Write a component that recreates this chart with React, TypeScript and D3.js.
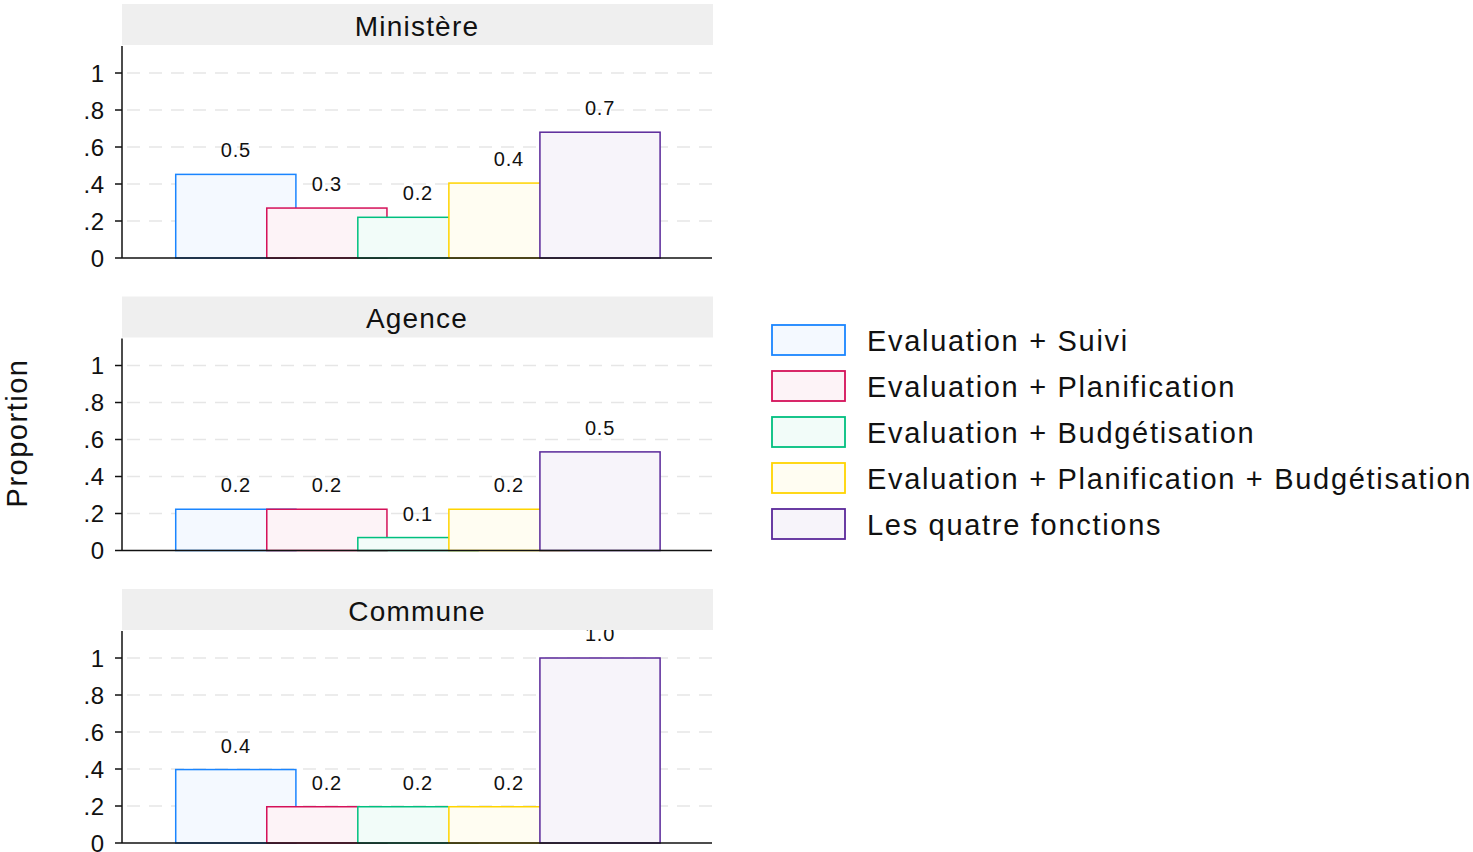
import * as React from 'react';
import * as d3 from 'd3';

// Panels (facets) and series
const panels = ['Ministère', 'Agence', 'Commune'];
const series = [
  'Evaluation + Suivi',
  'Evaluation + Planification',
  'Evaluation + Budgétisation',
  'Evaluation + Planification + Budgétisation',
  'Les quatre fonctions',
];
const colors = ['#1a85ff', '#d41159', '#00bf7f', '#ffd400', '#5a289a'];

// proportion per panel, one value per series
const ministere = [0.452, 0.27, 0.22, 0.405, 0.68];
const agence = [0.223, 0.223, 0.07, 0.223, 0.533];
const commune = [0.397, 0.196, 0.196, 0.196, 1.0];
const panelValues = [ministere, agence, commune];

const yTicks = [0, 0.2, 0.4, 0.6, 0.8, 1];

const W = 1473;
const H = 852;
const font = '"Liberation Sans", Arial, Helvetica, sans-serif';

// layout
const plotLeft = 122;
const plotRight = 712;
const panelTop0 = 4;
const panelStep = 292.5;
const stripH = 41;
const plotH = 212;

const fmtTick = (v: number) => (v === 0 ? '0' : v === 1 ? '1' : d3.format('.1f')(v).replace(/^0/, ''));
const fmtVal = d3.format('.1f');
const lightFill = (c: string) => d3.interpolateRgb('#ffffff', c)(0.05);

const x = d3.scaleLinear().domain([-1.25, 5.23]).range([plotLeft, plotRight]);
const barW = x(1.32) - x(0);

const Panel = ({ title, values, top }: { title: string; values: number[]; top: number }) => {
  const y0 = top + stripH + 1;
  const y = d3.scaleLinear().domain([0, 1.146]).range([y0 + plotH, y0]);
  return (
    <g>
      {/* grid */}
      {yTicks.filter((t) => t > 0).map((t) => (
        <line key={t} x1={plotLeft} x2={plotRight} y1={y(t)} y2={y(t)}
          stroke="#e6e6e6" strokeWidth={1.6} strokeDasharray="13,9" strokeDashoffset={-5} />
      ))}
      {/* bars, drawn in order so each covers the previous one */}
      {values.map((v, i) => (
        <rect key={i} x={x(i) - barW / 2} y={y(v)} width={barW} height={y(0) - y(v)}
          fill={lightFill(colors[i])} stroke={colors[i]} strokeWidth={1.5} />
      ))}
      {/* value labels */}
      {values.map((v, i) => (
        <text key={i} x={x(i)} y={y(v) - 17} textAnchor="middle" fontSize={20} letterSpacing={0.8}
          fontFamily={font} fill="#111">
          {fmtVal(v)}
        </text>
      ))}
      {/* axes */}
      <line x1={plotLeft} x2={plotLeft} y1={y0} y2={y(0)} stroke="#111" strokeWidth={1.5} />
      <line x1={plotLeft} x2={plotRight} y1={y(0)} y2={y(0)} stroke="#111" strokeWidth={1.5} />
      {yTicks.map((t) => (
        <g key={t}>
          <line x1={plotLeft - 7} x2={plotLeft} y1={y(t)} y2={y(t)} stroke="#111" strokeWidth={1.5} />
          <text x={plotLeft - 17} y={y(t)} dy="0.36em" textAnchor="end" fontSize={24} letterSpacing={0.8}
            fontFamily={font} fill="#111">
            {fmtTick(t)}
          </text>
        </g>
      ))}
      {/* strip (drawn last so it hides labels that run above the plot) */}
      <rect x={plotLeft} y={top} width={plotRight - plotLeft + 1} height={stripH} fill="#efefef" />
      <text x={(plotLeft + plotRight) / 2} y={top + stripH / 2 + 1} dy="0.36em" textAnchor="middle"
        fontSize={28} letterSpacing={1.2} fontFamily={font} fill="#111">
        {title}
      </text>
    </g>
  );
};

export default function App() {
  const legendTop = 325;
  const legendStep = 46;
  return (
    <svg width={W} height={H} style={{ position: 'absolute', left: 0, top: 0, background: 'white' }}>
      <rect width={W} height={H} fill="white" />
      {panels.map((p, k) => (
        <Panel key={p} title={p} values={panelValues[k]} top={panelTop0 + k * panelStep} />
      ))}
      <text transform={`translate(27,433) rotate(-90)`} textAnchor="middle" fontSize={29} letterSpacing={1.5}
        fontFamily={font} fill="#111">
        Proportion
      </text>
      {series.map((s, i) => (
        <g key={s} transform={`translate(772,${legendTop + i * legendStep})`}>
          <rect x={0} y={0} width={73} height={30} fill={lightFill(colors[i])} stroke={colors[i]} strokeWidth={1.8} />
          <text x={95} y={16} dy="0.36em" fontSize={29} letterSpacing={1.7} fontFamily={font} fill="#111">{s}</text>
        </g>
      ))}
    </svg>
  );
}
